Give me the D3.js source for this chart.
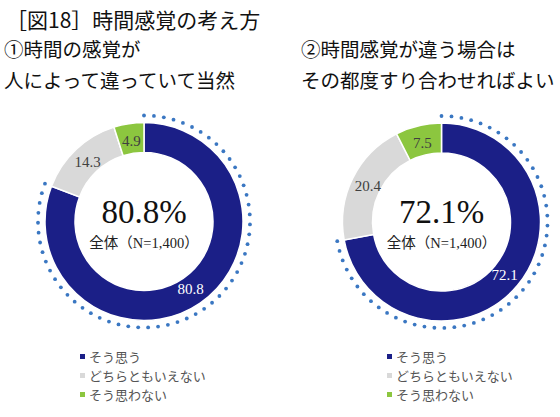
<!DOCTYPE html>
<html><head><meta charset="utf-8">
<script src="https://cdn.jsdelivr.net/npm/d3@7"></script>
<style>body{margin:0;background:#fff}svg{display:block}</style>
</head><body>
<script>
const categories = ["そう思う", "どちらともいえない", "そう思わない"];
const chart1Values = [80.8, 14.3, 4.9];
const chart2Values = [72.1, 20.4, 7.5];
const chartTitles = [["①時間の感覚が", "人によって違っていて当然"], ["②時間感覚が違う場合は", "その都度すり合わせればよい"]];
const centerValues = ["80.8%", "72.1%"];
const baseLabel = "全体（N=1,400）";
const colors = ["#1b1f87", "#d9d9d9", "#8cc63f"];
const labelColors = ["#ffffff", "#404040", "#404040"];

const W = 560, H = 417;
const svg = d3.select("body").append("svg").attr("width", W).attr("height", H);
const jp = "'Noto Sans CJK JP', sans-serif";
const serif = "'Liberation Serif', 'Noto Sans CJK JP', serif";

svg.append("text").attr("x", 6).attr("y", 28).attr("font-family", jp).attr("font-size", 21)
  .attr("fill", "#111").text("［図18］時間感覚の考え方");

const charts = [
  {cx: 144, cy: 221.5, vals: chart1Values, tx: 4, lx: 80},
  {cx: 441.5, cy: 222, vals: chart2Values, tx: 301, lx: 387}
];
const pie = d3.pie().sort(null).value(d => d);
const arc = d3.arc().innerRadius(69).outerRadius(99);
const labelArc = d3.arc().innerRadius(82).outerRadius(82);

charts.forEach((c, i) => {
  chartTitles[i].forEach((t, j) => {
    svg.append("text").attr("x", c.tx).attr("y", 57 + j * 31).attr("font-family", jp)
      .attr("font-size", 19.5).attr("fill", "#111").text(t);
  });
  const g = svg.append("g").attr("transform", `translate(${c.cx},${c.cy})`);
  const arcs = pie(c.vals);
  g.selectAll("path.seg").data(arcs).join("path").attr("class", "seg")
    .attr("d", arc).attr("fill", (d, k) => colors[k]).attr("stroke", "#fff").attr("stroke-width", 1.5);
  g.selectAll("text.lab").data(arcs).join("text").attr("class", "lab")
    .attr("transform", d => `translate(${labelArc.centroid(d)})`)
    .attr("text-anchor", "middle").attr("dy", "0.35em")
    .attr("font-family", serif).attr("font-size", 15)
    .attr("fill", (d, k) => labelColors[k]).text(d => d.data.toFixed(1));
  const a0 = arcs[0].startAngle, a1 = arcs[0].endAngle, R = 106;
  const n = Math.round((a1 - a0) * R / 10);
  const dots = d3.range(n + 1).map(k => a0 + (a1 - a0) * k / n);
  g.selectAll("circle.dot").data(dots).join("circle").attr("class", "dot")
    .attr("cx", a => R * Math.sin(a)).attr("cy", a => -R * Math.cos(a))
    .attr("r", 1.9).attr("fill", "#3a77c2");
  g.append("text").attr("y", 1).attr("text-anchor", "middle").attr("font-family", serif)
    .attr("font-size", 33).attr("fill", "#111").text(centerValues[i]);
  g.append("text").attr("y", 26).attr("text-anchor", "middle").attr("font-family", serif)
    .attr("font-size", 14.5).attr("fill", "#222").text(baseLabel);
  const lg = svg.append("g").attr("transform", `translate(${c.lx},357)`);
  categories.forEach((cat, k) => {
    lg.append("rect").attr("x", 0).attr("y", k * 19 - 3).attr("width", 5).attr("height", 5).attr("fill", colors[k]);
    lg.append("text").attr("x", 9).attr("y", k * 19 + 4.5).attr("font-family", jp)
      .attr("font-size", 13).attr("fill", "#555").text(cat);
  });
});
</script>
</body></html>
